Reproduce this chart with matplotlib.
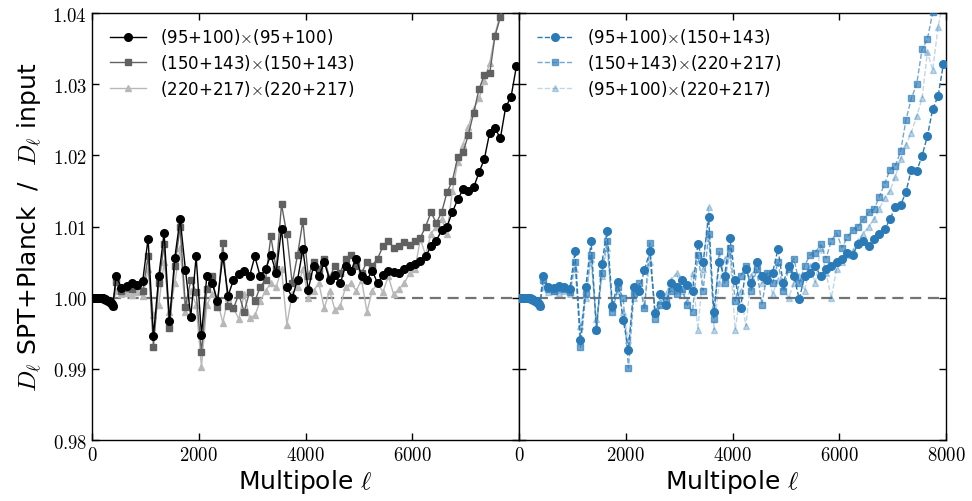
import matplotlib
matplotlib.use("Agg")
import matplotlib.pyplot as plt
from matplotlib.ticker import FixedLocator, FuncFormatter
import numpy as np

plt.rcParams['mathtext.fontset'] = 'cm'
plt.rcParams['font.family'] = 'DejaVu Sans'

# multipole bins
ell_low = list(range(10, 410, 20))           # fine bins, low ell
ell_bin = list(range(450, 8000, 100))        # coarse bins

# values are (D_ell SPT+Planck / D_ell input - 1) in units of 1e-4
dev_low = [0, 0, 0, 0, 0, 0, 0, 0, -1, -1, -1, -2, -2, -3, -4, -5, -6, -8, -9, -11]

# left panel: auto spectra
dev_95x95 = [30, 14, 16, 20, 18, 24, 83, -54, 30, 91, -33, 56, 111, 39, -27, 58,
             -52, 30, 20, -4, 58, 3, 25, 33, 37, 30, 58, 30, 40, 60, 35, 97,
             15, 0, 25, 68, 11, 45, 30, 50, 25, 32, 20, 45, 38, 55, 30, 25,
             38, 20, 32, 38, 36, 34, 40, 44, 48, 52, 58, 72, 80, 95, 100, 120,
             138, 152, 150, 155, 176, 195, 232, 238, 224, 268, 282, 325]
dev_150x150 = [22, 10, 14, 12, 16, 10, 58, -69, 20, 75, -43, 45, 99, -13, 25, 8,
               -77, 12, 30, -13, 77, -12, -15, 5, -20, 8, -5, 15, 25, 86, 40, 131,
               89, 20, 60, 108, 30, 50, 40, 55, 28, 45, 35, 55, 60, 45, 35, 50,
               45, 55, 72, 80, 70, 72, 78, 74, 80, 84, 100, 120, 105, 120, 148, 164,
               197, 204, 229, 260, 293, 313, 315, 368, 394, 430, 460, 490]
dev_220x220 = [10, 5, 6, 4, 8, 2, 40, -25, -10, 50, -20, 20, 70, -20, 10, -10,
               -97, -10, 5, -5, -35, 0, -15, -30, 5, -28, -25, -5, 10, 20, 15, 40,
               -38, 5, 15, 40, 0, 10, 20, -15, 10, -17, -12, 15, 20, 10, 25, -20,
               10, 20, 8, 30, 5, 12, 20, 35, 40, 82, 60, 90, 100, 110, 90, 150,
               190, 215, 240, 265, 280, 305, 330, 370, 400, 440, 470, 500]

# right panel: cross spectra
dev_95x150 = [30, 15, 14, 16, 15, 12, 65, -60, 15, 79, -45, 48, 93, -11, 22, -31,
              -73, 15, 10, 39, 65, -22, 5, -10, 20, 15, 25, 18, 10, 75, 50, 114,
              -20, 50, 30, 84, 25, -14, 40, 20, 50, 30, 25, 35, 68, 20, 45, 30,
              -2, 30, 35, 45, 30, 40, 45, 50, 55, 63, 60, 75, 80, 72, 82, 90,
              96, 110, 128, 130, 149, 180, 178, 199, 227, 265, 283, 328]
dev_150x220 = [25, 12, 10, 14, 12, 8, 50, -70, 5, 60, -45, 35, 80, -20, 15, 0,
               -99, 5, 20, -15, 77, -30, -10, -5, 10, 5, 12, -10, -20, 60, 10, 90,
               -30, 65, 20, 70, -5, 30, 45, 10, 40, -10, 35, 20, 50, 10, 40, 55,
               20, 45, 60, 63, 75, 55, 80, 91, 70, 85, 95, 100, 110, 120, 124, 142,
               160, 180, 185, 206, 250, 280, 300, 349, 363, 401, 430, 460]
dev_95x220 = [15, 8, 10, 6, 10, 5, 40, -40, 0, 55, -30, 30, 70, -15, 10, -20,
              -60, 0, 15, -10, 50, -20, -5, 5, 25, 35, 10, -5, 35, -45, 40, 127,
              -45, 20, 55, 60, -45, 10, -40, 30, 50, 20, 35, 5, 25, 15, 0, 20,
              30, 10, 45, 20, 70, 35, 0, 40, 50, 60, 65, 80, 90, 100, 110, 125,
              140, 150, 170, 195, 215, 232, 255, 280, 345, 320, 380, 420]

ell = ell_low + ell_bin


def ratio(dev):
    return 1.0 + np.array(dev_low + dev) * 1e-4


blue = '#2a7ab8'

fig = plt.figure(figsize=(9.72, 5.02), dpi=100)
ax1 = fig.add_axes([0.0947, 0.1215, 0.4393, 0.8506])
ax2 = fig.add_axes([0.534, 0.1215, 0.4393, 0.8506], sharey=ax1)

for ax in (ax1, ax2):
    ax.axhline(1.0, color='0.45', ls=(0, (5, 3)), lw=1.6, zorder=1)

ax1.plot(ell, ratio(dev_220x220), '-^', color='0.72', ms=5, lw=1,
         label='(220+217)$\\times$(220+217)', zorder=2)
ax1.plot(ell, ratio(dev_150x150), '-s', color='0.38', ms=4.5, lw=1,
         label='(150+143)$\\times$(150+143)', zorder=3)
ax1.plot(ell, ratio(dev_95x95), '-o', color='k', ms=5.5, lw=1,
         label='(95+100)$\\times$(95+100)', zorder=4)

ax2.plot(ell, ratio(dev_95x220), '--^', color=blue, alpha=0.3, ms=5, lw=1,
         label='(95+100)$\\times$(220+217)', zorder=2)
ax2.plot(ell, ratio(dev_150x220), '--s', color=blue, alpha=0.65, ms=4.5, lw=1,
         label='(150+143)$\\times$(220+217)', zorder=3)
ax2.plot(ell, ratio(dev_95x150), '--o', color=blue, ms=5.5, lw=1,
         label='(95+100)$\\times$(150+143)', zorder=4)

for ax in (ax1, ax2):
    ax.set_xlim(0, 8000)
    ax.set_ylim(0.98, 1.04)
    ax.tick_params(direction='in', top=True, right=True, length=5, width=1,
                   labelsize=13.5)
    for sp in ax.spines.values():
        sp.set_linewidth(1)
    ax.set_xlabel(r'Multipole $\ell$', fontsize=18, labelpad=2)
    h, l = ax.get_legend_handles_labels()
    ax.legend(h[::-1], l[::-1], loc='upper left', frameon=False, fontsize=12,
              handlelength=2.2, labelspacing=0.35, borderaxespad=0.4,
              bbox_to_anchor=(0.01, 1.0))

ax1.xaxis.set_major_locator(FixedLocator([0, 2000, 4000, 6000]))
ax2.xaxis.set_major_locator(FixedLocator([0, 2000, 4000, 6000, 8000]))
ax1.yaxis.set_major_locator(FixedLocator([0.98, 0.99, 1.00, 1.01, 1.02, 1.03, 1.04]))
for ax in (ax1, ax2):
    ax.xaxis.set_major_formatter(FuncFormatter(lambda v, p: '$%d$' % v))
ax1.yaxis.set_major_formatter(FuncFormatter(lambda v, p: '$%.2f$' % v))
ax2.tick_params(labelleft=False)

ax1.set_ylabel(r'$D_\ell$ SPT+Planck  /  $D_\ell$ input', fontsize=18, labelpad=6)

plt.savefig('out.png', dpi=100)
